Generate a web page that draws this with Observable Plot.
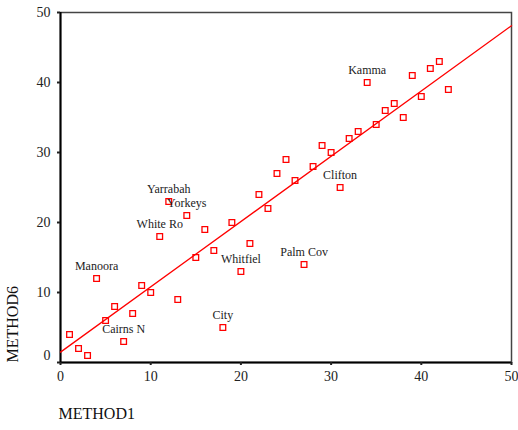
<!DOCTYPE html>
<html>
<head>
<meta charset="utf-8">
<script src="https://cdn.jsdelivr.net/npm/d3@7"></script>
<script src="https://cdn.jsdelivr.net/npm/@observablehq/plot@0.6"></script>
<style>
  html, body { margin: 0; padding: 0; background: #fff; }
  #chart { width: 518px; height: 430px; }
  #chart svg text { font-family: 'Liberation Serif', 'Times New Roman', serif; }
</style>
</head>
<body>
<div id="chart"></div>
<script>
// METHOD1 ranks (x) and METHOD6 ranks (y)
const method1 = [1,2,3,4,5,6,7,8,9,10,11,12,13,14,15,16,17,18,19,20,21,22,23,24,25,26,27,28,29,30,31,32,33,34,35,36,37,38,39,40,41,42,43];
const method6 = [4,2,1,12,6,8,3,7,11,10,18,23,9,21,15,19,16,5,20,13,17,24,22,27,29,26,14,28,31,30,25,32,33,40,34,36,37,35,41,38,42,43,39];
const pointLabels = ["","","","Manoora","","","Cairns N","","","","White Ro","Yarrabah","","Yorkeys","","","","City","","Whitfiel","","","","","","","Palm Cov","","","","Clifton","","","Kamma","","","","","","","","",""];
const axisTicks = [0,10,20,30,40,50];

const data = method1.map((x, i) => ({x, y: method6[i], label: pointLabels[i]}));

// least-squares fit line
const mx = d3.mean(method1), my = d3.mean(method6);
const slope = d3.sum(data, d => (d.x - mx) * (d.y - my)) / d3.sum(data, d => (d.x - mx) ** 2);
const intercept = my - slope * mx;
const fitLine = [0, 50].map(x => ({x, y: intercept + slope * x}));

const font = "'Liberation Serif', 'Times New Roman', serif";

const chart = Plot.plot({
  width: 518,
  height: 430,
  marginLeft: 60,
  marginRight: 7,
  marginTop: 12,
  marginBottom: 68,
  style: {fontFamily: font, background: "#fff", color: "#222"},
  x: {domain: [0, 50]},
  y: {domain: [0, 50]},
  marks: [
    Plot.frame({stroke: "#444", strokeWidth: 1.5}),
    Plot.ruleX([0], {stroke: "#000", strokeWidth: 2}),
    Plot.ruleY([0], {stroke: "#000", strokeWidth: 2}),
    Plot.axisX({ticks: axisTicks, tickSize: 3, tickPadding: 6, fontSize: 14, strokeWidth: 2, label: null}),
    Plot.axisY({ticks: axisTicks, tickSize: 3, tickPadding: 7, fontSize: 14, strokeWidth: 2, label: null,
                tickFormat: d => d === 0 ? "" : d}),
    Plot.text([0], {y: d => d, frameAnchor: "left", text: d => String(d), dx: -10, dy: -7, textAnchor: "end", fontSize: 14}),
    Plot.line(fitLine, {x: "x", y: "y", stroke: "#ff0000", strokeWidth: 1.3}),
    Plot.dot(data, {x: "x", y: "y", symbol: "square", r: 3.2, stroke: "#ff0000", strokeWidth: 1.3, fill: "none"}),
    Plot.text(data.filter(d => d.label), {x: "x", y: "y", text: "label", dy: -12, fontSize: 12, fill: "#222", fontFamily: font}),
    Plot.text(["METHOD1"], {frameAnchor: "bottom-left", text: d => d, dx: -2, dy: 56, textAnchor: "start", fontSize: 16, fill: "#111", fontFamily: font}),
    Plot.text(["METHOD6"], {frameAnchor: "bottom-left", text: d => d, dx: -43, rotate: -90, textAnchor: "start", fontSize: 16, fill: "#111", fontFamily: font})
  ]
});
document.getElementById("chart").appendChild(chart);
</script>
</body>
</html>
